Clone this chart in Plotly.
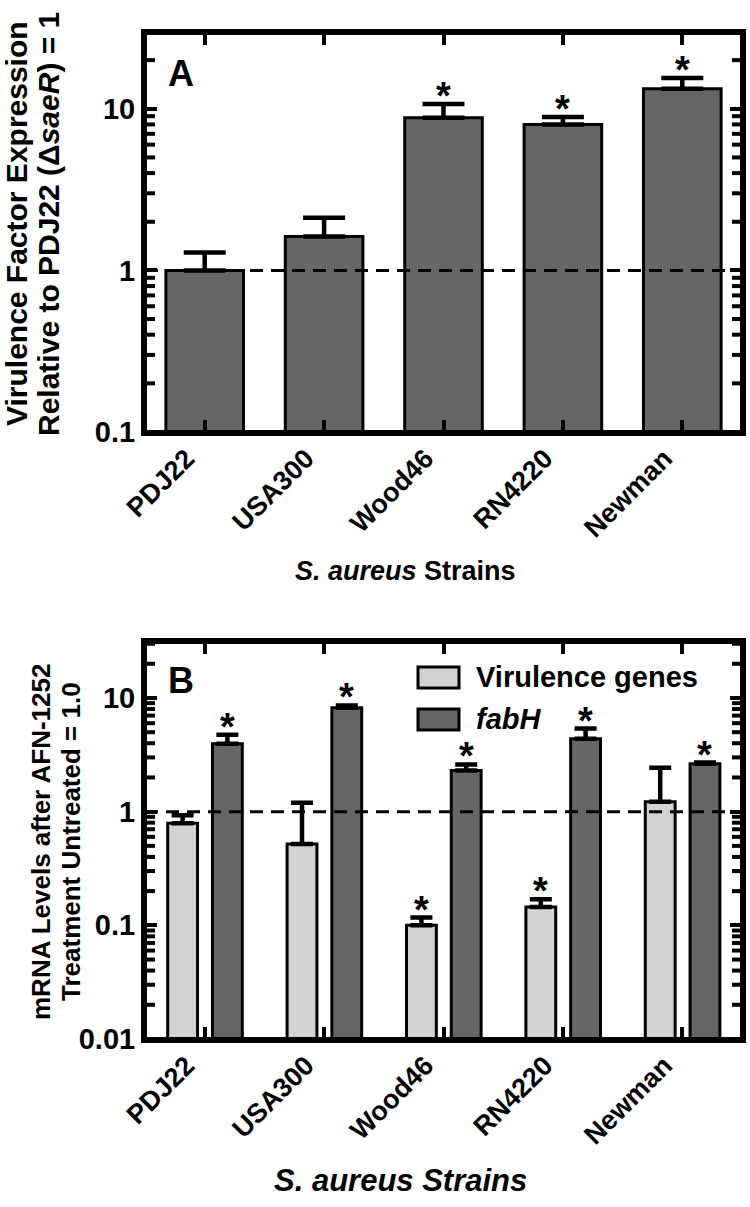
import math
import plotly.graph_objects as go

# ---------------- data ----------------
strains = ["PDJ22", "USA300", "Wood46", "RN4220", "Newman"]

# Panel A: virulence factor expression relative to PDJ22
a_values = [1.0, 1.62, 8.8, 8.0, 13.3]
a_err_up = [0.29, 0.50, 1.9, 0.9, 2.2]
a_sig = [False, False, True, True, True]

# Panel B: mRNA levels after AFN-1252 treatment
b_virulence = [0.79, 0.52, 0.100, 0.145, 1.22]
b_virulence_err = [0.14, 0.68, 0.017, 0.025, 1.21]
b_virulence_sig = [False, False, True, True, False]
b_fabh = [3.96, 8.2, 2.3, 4.38, 2.64]
b_fabh_err = [0.79, 0.40, 0.30, 1.0, 0.06]
b_fabh_sig = [True, True, True, True, True]

reference_level = 1.0
minor_ticks = [m * 10 ** e for e in range(-2, 2) for m in range(2, 10)]

# ---------------- styling ----------------
W, H = 750, 1207
FONT = "Liberation Sans, Arial, sans-serif"
DARK = "#666666"
LIGHT = "#d2d2d2"

def px(x):
    return x / W

def py(y):
    return 1 - y / H

xdom = [px(145), px(742)]
ydom_a = [py(432), py(33)]
ydom_b = [py(1039), py(642)]
yrange_a = [-1, 1.469]
yrange_b = [-2, 1.4925]

idx = list(range(len(strains)))
xrange_ = [-0.5, len(strains) - 0.5]

fig = go.Figure()

DASH = dict(color="black", width=3, dash="13px,8px")

# Panel A bars
fig.add_trace(go.Bar(
    x=idx, y=a_values, width=0.65,
    marker=dict(color=DARK, line=dict(color="black", width=3)),
    error_y=dict(type="data", symmetric=False, array=a_err_up,
                 arrayminus=[0] * len(a_values), color="black",
                 thickness=4.5, width=21),
    xaxis="x", yaxis="y", showlegend=False,
))
fig.add_trace(go.Scatter(
    x=xrange_, y=[reference_level, reference_level], mode="lines",
    line=DASH, xaxis="x", yaxis="y", showlegend=False, hoverinfo="skip",
))

# Panel B bars
VW, VOFF, FOFF = 0.25, -0.31, 0.065
fig.add_trace(go.Bar(
    x=idx, y=b_virulence, width=VW, offset=VOFF,
    marker=dict(color=LIGHT, line=dict(color="black", width=3)),
    error_y=dict(type="data", symmetric=False, array=b_virulence_err,
                 arrayminus=[0] * len(b_virulence), color="black",
                 thickness=4.5, width=11),
    xaxis="x2", yaxis="y2", showlegend=False,
))
fig.add_trace(go.Bar(
    x=idx, y=b_fabh, width=VW, offset=FOFF,
    marker=dict(color=DARK, line=dict(color="black", width=3)),
    error_y=dict(type="data", symmetric=False, array=b_fabh_err,
                 arrayminus=[0] * len(b_fabh), color="black",
                 thickness=4.5, width=11),
    xaxis="x2", yaxis="y2", showlegend=False,
))
fig.add_trace(go.Scatter(
    x=xrange_, y=[reference_level, reference_level], mode="lines",
    line=DASH, xaxis="x2", yaxis="y2", showlegend=False, hoverinfo="skip",
))

annotations = []

def star(x, yval, xref, yref):
    annotations.append(dict(
        x=x, y=math.log10(yval), xref=xref, yref=yref, text="<b>*</b>",
        showarrow=False, xanchor="center", yanchor="bottom", yshift=-15,
        font=dict(family=FONT, size=38, color="black"),
    ))

for i, (v, e, s) in enumerate(zip(a_values, a_err_up, a_sig)):
    if s:
        star(i, v + e, "x", "y")
for i, (v, e, s) in enumerate(zip(b_virulence, b_virulence_err, b_virulence_sig)):
    if s:
        star(i + VOFF + VW / 2, v + e, "x2", "y2")
for i, (v, e, s) in enumerate(zip(b_fabh, b_fabh_err, b_fabh_sig)):
    if s:
        star(i + FOFF + VW / 2, v + e, "x2", "y2")

def text(x, y, t, size, angle=0, xanchor="center", yanchor="middle"):
    annotations.append(dict(
        x=px(x), y=py(y), xref="paper", yref="paper", text=t,
        showarrow=False, textangle=angle, xanchor=xanchor, yanchor=yanchor,
        font=dict(family=FONT, size=size, color="black"),
    ))

# axis titles
text(16, 224, "<b>Virulence Factor Expression</b>", 30, -90)
text(48, 224, "<b>Relative to PDJ22 (Δ<i>saeR</i>) = 1</b>", 30, -90)
text(41, 842, "<b>mRNA Levels after AFN-1252</b>", 26, -90)
text(71, 842, "<b>Treatment Untreated = 1.0</b>", 26, -90)
text(405, 571, "<b><i>S. aureus</i> Strains</b>", 27)
text(401, 1180, "<b><i>S. aureus Strains</i></b>", 31)
# panel labels
text(166, 73, "<b>A</b>", 36, xanchor="left")
text(166, 680, "<b>B</b>", 36, xanchor="left")
# legend
text(474, 677, "<b>Virulence genes</b>", 29, xanchor="left")
text(474, 719, "<b><i>fabH</i></b>", 29, xanchor="left")

shapes = [
    dict(type="rect", xref="paper", yref="paper", x0=px(418), x1=px(459),
         y0=py(688), y1=py(667), fillcolor=LIGHT, line=dict(color="black", width=3)),
    dict(type="rect", xref="paper", yref="paper", x0=px(418), x1=px(459),
         y0=py(730), y1=py(709), fillcolor=DARK, line=dict(color="black", width=3)),
]
# minor log ticks (inside, on both vertical axes)
plot_w = 742 - 145
mlen = 10 / plot_w
for xr, yr, rng in (("x", "y", yrange_a), ("x2", "y2", yrange_b)):
    lo, hi = 10 ** rng[0], 10 ** rng[1]
    for v in minor_ticks:
        if lo < v < hi:
            for x0, x1 in ((0, mlen), (1 - mlen, 1)):
                shapes.append(dict(type="line", xref=xr + " domain", yref=yr,
                                   x0=x0, x1=x1, y0=v, y1=v, layer="above",
                                   line=dict(color="black", width=4)))
    shapes.append(dict(type="rect", xref=xr + " domain", yref=yr + " domain",
                       x0=0, x1=1, y0=0, y1=1, layer="above",
                       line=dict(color="black", width=4)))

axis_common = dict(
    showline=True, linewidth=4, linecolor="black", mirror="ticks",
    ticks="inside", ticklen=12, tickwidth=4, tickcolor="black",
    showgrid=False, zeroline=False, automargin=False,
)
xaxis_common = dict(
    axis_common, range=xrange_, tickmode="array", tickvals=idx, ticktext=strains,
    tickangle=-45, ticklabelshift=-18, ticklabelstandoff=-4,
    tickfont=dict(family=FONT, size=27, color="black", weight="bold"),
)
ytick_font = dict(family=FONT, size=29, color="black", weight="bold")

fig.update_layout(
    width=W, height=H, margin=dict(l=0, r=0, t=0, b=0, autoexpand=False),
    paper_bgcolor="white", plot_bgcolor="white", showlegend=False,
    xaxis=dict(xaxis_common, domain=xdom, anchor="y"),
    yaxis=dict(axis_common, domain=ydom_a, anchor="x", type="log",
               range=yrange_a, dtick=1, tickfont=ytick_font),
    xaxis2=dict(xaxis_common, domain=xdom, anchor="y2"),
    yaxis2=dict(axis_common, domain=ydom_b, anchor="x2", type="log",
                range=yrange_b, dtick=1, tickfont=ytick_font),
    annotations=annotations, shapes=shapes,
)

fig.write_html("out.html", config={"displayModeBar": False},
               post_script="document.body.style.margin='0';")
